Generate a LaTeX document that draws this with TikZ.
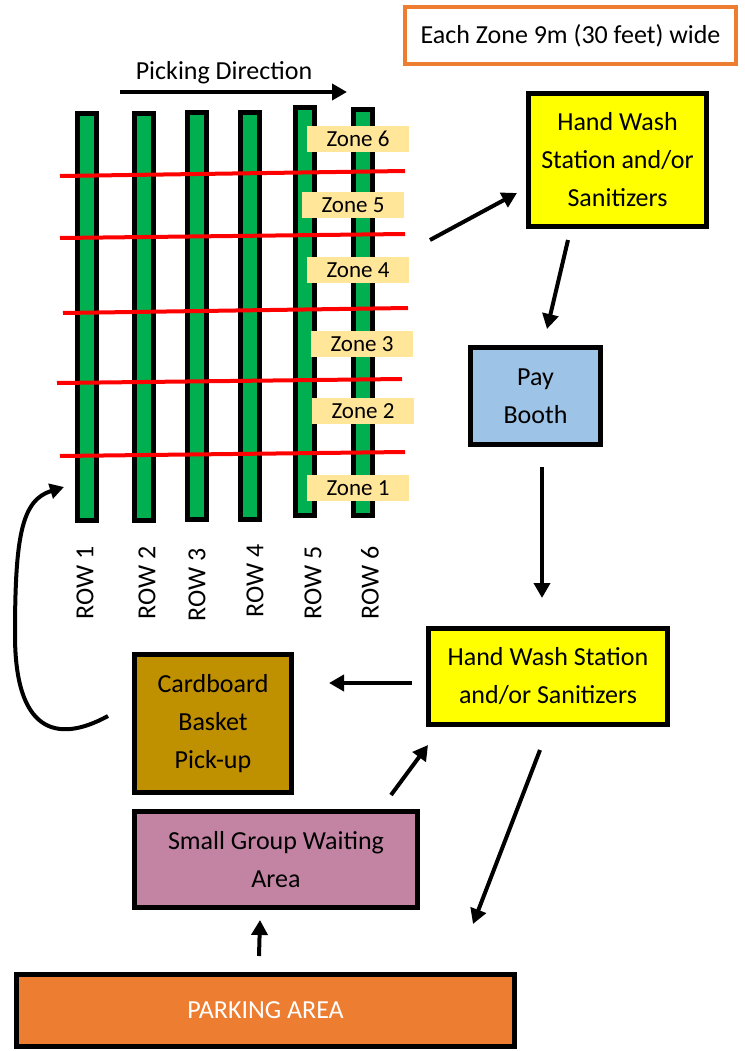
\documentclass[tikz,border=0pt]{standalone}
\usepackage{fontspec}
\setmainfont{Carlito}
\usetikzlibrary{arrows.meta}
\definecolor{rowgreen}{HTML}{00B050}
\definecolor{zoneyel}{HTML}{FFE699}
\definecolor{hwyel}{HTML}{FFFF00}
\definecolor{payblue}{HTML}{9DC3E6}
\definecolor{cardbrown}{HTML}{BF9000}
\definecolor{grouppink}{HTML}{C384A4}
\definecolor{parkorange}{HTML}{ED7D31}
\begin{document}
\begin{tikzpicture}[x=1pt,y=-1pt,
  box/.style={draw=black, line width=5pt, align=center, inner sep=0pt, font=\fontsize{26}{38}\selectfont},
  rowbar/.style={draw=black, fill=rowgreen, line width=5pt, minimum width=19pt, inner sep=0pt},
  zonelab/.style={fill=zoneyel, minimum width=102pt, minimum height=26pt, inner sep=0pt, font=\fontsize{23}{26}\selectfont},
  rowlab/.style={rotate=90, inner sep=0pt, font=\fontsize{26}{30}\selectfont},
  arr/.style={line width=4pt, -{Triangle[length=15pt,width=16pt]}},
  redline/.style={draw=red, line width=4pt}]
\useasboundingbox (0,0) rectangle (744,1051);

% zone width note
\node[draw=parkorange, line width=4pt, minimum width=331pt, minimum height=57pt, inner sep=0pt,
      font=\fontsize{26}{30}\selectfont] (note) at (570.5,35.5) {Each Zone 9m (30 feet) wide};

% picking direction
\node[font=\fontsize{26}{30}\selectfont, inner sep=0pt] (pick) at (224,73) {Picking Direction};
\coordinate (pd1) at (120,92);
\coordinate (pd2) at (347,92);
\draw[arr] (pd1) -- (pd2);

% rows
\node[rowbar, minimum height=407pt] (row1) at (87,317) {};
\node[rowbar, minimum height=407pt] (row2) at (144,317) {};
\node[rowbar, minimum height=407pt] (row3) at (197,316) {};
\node[rowbar, minimum height=407pt] (row4) at (250,316) {};
\node[rowbar, minimum height=408pt] (row5) at (305,311.5) {};
\node[rowbar, minimum height=406pt] (row6) at (363,312.5) {};

% zone boundaries
\draw[redline] (60,176) -- (405,171);
\draw[redline] (60,238) -- (405,234);
\draw[redline] (63,313) -- (408,308);
\draw[redline] (57,383) -- (402,379);
\draw[redline] (60,456) -- (405,452);

% zone labels
\node[zonelab] (z6) at (358,139) {Zone 6};
\node[zonelab] (z5) at (353,205) {Zone 5};
\node[zonelab] (z4) at (358,270) {Zone 4};
\node[zonelab] (z3) at (362,344) {Zone 3};
\node[zonelab] (z2) at (363,411) {Zone 2};
\node[zonelab] (z1) at (358,488) {Zone 1};

% row labels
\node[rowlab] (r1) at (85,583) {ROW 1};
\node[rowlab] (r2) at (147,583) {ROW 2};
\node[rowlab] (r3) at (197,585) {ROW 3};
\node[rowlab] (r4) at (255,581) {ROW 4};
\node[rowlab] (r5) at (313,583) {ROW 5};
\node[rowlab] (r6) at (370,583) {ROW 6};

% boxes
\node[box, fill=hwyel, minimum width=178pt, minimum height=133pt] (hw1) at (617.5,160)
  {Hand Wash\\Station and/or\\Sanitizers};
\node[box, fill=payblue, minimum width=130pt, minimum height=97pt] (pay) at (535.5,396)
  {Pay\\Booth};
\node[box, fill=hwyel, minimum width=239pt, minimum height=96pt] (hw2) at (548,676.5)
  {Hand Wash Station\\and/or Sanitizers};
\node[box, fill=cardbrown, minimum width=157pt, minimum height=138pt] (card) at (213,723.5)
  {Cardboard\\Basket\\Pick-up};
\node[box, fill=grouppink, minimum width=283pt, minimum height=96pt] (group) at (276,859.5)
  {Small Group Waiting\\Area};
\node[box, fill=parkorange, text=white, minimum width=498pt, minimum height=72pt] (park) at (265.5,1010.5)
  {PARKING AREA};

% connector end points
\coordinate (a1s) at (430,240);  \coordinate (a1e) at (517,193);
\coordinate (a2s) at (568,240);  \coordinate (a2e) at (547,329);
\coordinate (a3s) at (542,467);  \coordinate (a3e) at (542,598);
\coordinate (a4s) at (412,683);  \coordinate (a4e) at (329,683);
\coordinate (a5s) at (391,795);  \coordinate (a5e) at (428,745);
\coordinate (a6s) at (540,750);  \coordinate (a6e) at (473,924);
\coordinate (a7s) at (259,956);  \coordinate (a7e) at (260,920);
\coordinate (c1s) at (108,716);  \coordinate (c1e) at (64,487);

\draw[arr] (a1s) -- (a1e);
\draw[arr] (a2s) -- (a2e);
\draw[arr] (a3s) -- (a3e);
\draw[arr] (a4s) -- (a4e);
\draw[arr] (a5s) -- (a5e);
\draw[arr] (a6s) -- (a6e);
\draw[arr] (a7s) -- (a7e);
\draw[line width=4pt, -{Triangle[length=14pt,width=15pt]}]
  (c1s) .. controls (55,745) and (15,730) .. (15,635)
        .. controls (15,535) and (22,500) .. (c1e);
\end{tikzpicture}
\end{document}
